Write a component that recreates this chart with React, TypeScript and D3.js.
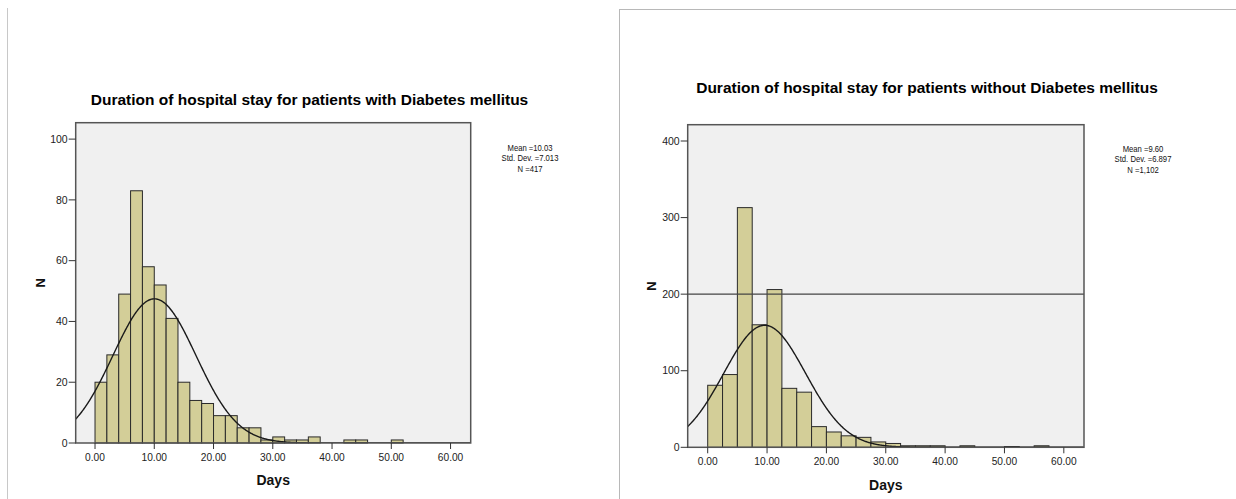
import * as d3 from 'd3';

// Diabetes mellitus: bins of 2 days starting at 0
const withDmBinWidth = 2;
const withDmCounts = [20, 29, 49, 83, 58, 52, 41, 20, 14, 13, 9, 9, 5, 5, 1, 2, 1, 1, 2, 0, 0, 1, 1, 0, 0, 1];
const withDmStats = { mean: 10.03, sd: 7.013, n: 417 };
const withDmYTicks = [0, 20, 40, 60, 80, 100];

// Without diabetes mellitus: bins of 2.5 days starting at 0
const withoutDmBinWidth = 2.5;
const withoutDmCounts = [81, 95, 313, 160, 206, 77, 72, 27, 20, 15, 13, 7, 5, 2, 2, 2, 0, 2, 0, 0, 1, 0, 2];
const withoutDmStats = { mean: 9.6, sd: 6.897, n: 1102 };
const withoutDmYTicks = [0, 100, 200, 300, 400];
const withoutDmRefLine = 200;

const xTicks = [0, 10, 20, 30, 40, 50, 60];

const FONT = '"Liberation Sans", Arial, sans-serif';
const BAR_FILL = '#d3ce98';
const PLOT_BG = '#f0f0f0';

type Props = {
  title: string;
  titleX: number;
  titleY: number;
  counts: number[];
  binWidth: number;
  stats: { mean: number; sd: number; n: number };
  statsLines: string[];
  statsX: number;
  statsY: number;
  yTicks: number[];
  yTop: number;
  refLine?: number;
  plot: { left: number; right: number; top: number; bottom: number };
  xDomain: [number, number];
  yLabelX: number;
  xLabelY: number;
  clipId: string;
};

function Histogram(p: Props) {
  const x = d3.scaleLinear().domain(p.xDomain).range([p.plot.left, p.plot.right]);
  const y = d3.scaleLinear().domain([0, p.yTop]).range([p.plot.bottom, p.plot.top]);

  // fitted normal curve from the displayed mean / std. dev. / N
  const { mean, sd, n } = p.stats;
  const scale = (n * p.binWidth) / (sd * Math.sqrt(2 * Math.PI));
  const curvePts = d3.range(p.xDomain[0], p.xDomain[1] + 0.01, 0.1);
  const curve = d3
    .line<number>()
    .x((d) => x(d))
    .y((d) => y(scale * Math.exp(-0.5 * ((d - mean) / sd) ** 2)))(curvePts);

  const plotW = p.plot.right - p.plot.left;
  const plotH = p.plot.bottom - p.plot.top;

  return (
    <g fontFamily={FONT}>
      <text x={p.titleX} y={p.titleY} textAnchor="middle" fontSize={15.5} fontWeight="bold" fill="#000">
        {p.title}
      </text>
      <defs>
        <clipPath id={p.clipId}>
          <rect x={p.plot.left} y={p.plot.top} width={plotW} height={plotH} />
        </clipPath>
      </defs>
      <rect x={p.plot.left} y={p.plot.top} width={plotW} height={plotH} fill={PLOT_BG} />
      {p.counts.map((c, i) =>
        c > 0 ? (
          <rect
            key={i}
            x={x(i * p.binWidth)}
            y={y(c)}
            width={x((i + 1) * p.binWidth) - x(i * p.binWidth)}
            height={y(0) - y(c)}
            fill={BAR_FILL}
            stroke="#2a2a2a"
            strokeWidth={1}
          />
        ) : null
      )}
      {p.refLine !== undefined && (
        <line
          x1={p.plot.left}
          x2={p.plot.right}
          y1={y(p.refLine)}
          y2={y(p.refLine)}
          stroke="#444"
          strokeWidth={1.2}
        />
      )}
      <path d={curve || ''} fill="none" stroke="#1a1a1a" strokeWidth={1.4} clipPath={`url(#${p.clipId})`} />
      <rect
        x={p.plot.left}
        y={p.plot.top}
        width={plotW}
        height={plotH}
        fill="none"
        stroke="#555"
        strokeWidth={1.5}
      />
      {p.yTicks.map((t) => (
        <g key={t}>
          <line x1={p.plot.left - 7} x2={p.plot.left} y1={y(t)} y2={y(t)} stroke="#333" strokeWidth={1} />
          <text x={p.plot.left - 8} y={y(t)} dy="0.35em" textAnchor="end" fontSize={10.5} fill="#222">
            {t}
          </text>
        </g>
      ))}
      {xTicks.map((t) => (
        <g key={t}>
          <line x1={x(t)} x2={x(t)} y1={p.plot.bottom} y2={p.plot.bottom + 6} stroke="#333" strokeWidth={1} />
          <text x={x(t)} y={p.plot.bottom + 18} textAnchor="middle" fontSize={10.2} fill="#222">
            {d3.format('.2f')(t)}
          </text>
        </g>
      ))}
      <text
        x={(p.plot.left + p.plot.right) / 2}
        y={p.xLabelY}
        textAnchor="middle"
        fontSize={14}
        fontWeight="bold"
        fill="#111"
      >
        Days
      </text>
      <text
        transform={`translate(${p.yLabelX},${(p.plot.top + p.plot.bottom) / 2}) rotate(-90)`}
        textAnchor="middle"
        dy="0.35em"
        fontSize={13}
        fontWeight="bold"
        fill="#111"
      >
        N
      </text>
      {p.statsLines.map((s, i) => (
        <text
          key={i}
          transform={`translate(${p.statsX},${p.statsY + i * 10.3}) scale(0.8,1)`}
          textAnchor="middle"
          fontSize={9.6}
          fill="#111"
        >
          {s}
        </text>
      ))}
    </g>
  );
}

export default function App() {
  return (
    <div style={{ position: 'absolute', left: 0, top: 0 }}>
      <svg width={1236} height={499} style={{ display: 'block', background: '#fff' }}>
        <line x1={7.5} x2={7.5} y1={8} y2={499} stroke="#c8c8c8" strokeWidth={1} />
        <line x1={619.5} x2={619.5} y1={9} y2={499} stroke="#b8b8b8" strokeWidth={1} />
        <line x1={619.5} x2={1236} y1={9.5} y2={9.5} stroke="#b8b8b8" strokeWidth={1} />
        <Histogram
          title="Duration of hospital stay for patients with Diabetes mellitus"
          titleX={309.5}
          titleY={105}
          counts={withDmCounts}
          binWidth={withDmBinWidth}
          stats={withDmStats}
          statsLines={['Mean =10.03', 'Std. Dev. =7.013', 'N =417']}
          statsX={530}
          statsY={151}
          yTicks={withDmYTicks}
          yTop={105.4}
          plot={{ left: 75.7, right: 470.7, top: 122.7, bottom: 443 }}
          xDomain={[-3.26, 63.4]}
          yLabelX={40}
          xLabelY={485}
          clipId="clipL"
        />
        <Histogram
          title="Duration of hospital stay for patients without Diabetes mellitus"
          titleX={927}
          titleY={93}
          counts={withoutDmCounts}
          binWidth={withoutDmBinWidth}
          stats={withoutDmStats}
          statsLines={['Mean =9.60', 'Std. Dev. =6.897', 'N =1,102']}
          statsX={1143}
          statsY={152}
          yTicks={withoutDmYTicks}
          yTop={421.3}
          refLine={withoutDmRefLine}
          plot={{ left: 687.7, right: 1084, top: 124.7, bottom: 447.3 }}
          xDomain={[-3.37, 63.4]}
          yLabelX={651}
          xLabelY={490}
          clipId="clipR"
        />
      </svg>
    </div>
  );
}
